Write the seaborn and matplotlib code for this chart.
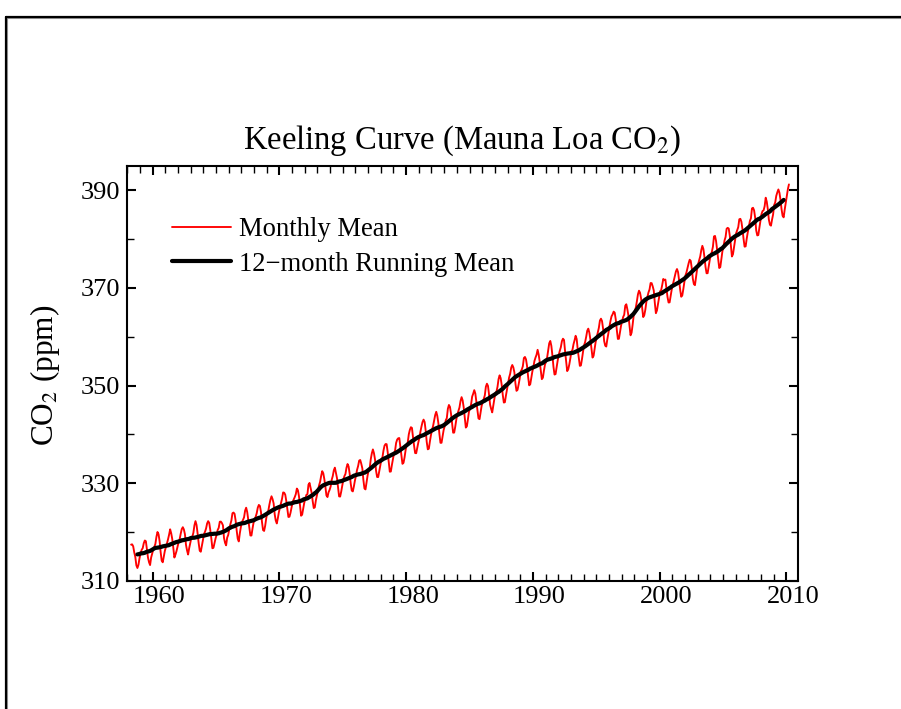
import numpy as np
import pandas as pd
import matplotlib
matplotlib.use("Agg")
import matplotlib.pyplot as plt
import matplotlib.transforms as mtransforms
from matplotlib.lines import Line2D
from matplotlib.ticker import MultipleLocator
import seaborn as sns

# ---------------- data (Mauna Loa monthly mean CO2, ppm) ----------------
start_year = 1958
start_month = 4  # April 1958
monthly_mean_ppm = [
    # 1958 (Apr-Dec)
    317.45, 317.50, 317.10, 315.86, 314.93, 313.20, 312.66, 313.33, 314.67,
    # 1959
    315.62, 316.38, 316.71, 317.72, 318.29, 318.15, 316.54, 314.80, 313.84, 313.26, 314.80, 315.58,
    # 1960
    316.43, 316.97, 317.58, 319.02, 320.03, 319.59, 318.18, 315.91, 314.16, 313.83, 315.00, 316.19,
    # 1961
    316.93, 317.70, 318.54, 319.48, 320.58, 319.77, 318.57, 316.79, 314.80, 315.38, 316.10, 317.01,
    # 1962
    317.94, 318.56, 319.68, 320.63, 321.01, 320.55, 319.58, 317.40, 316.26, 315.42, 316.69, 317.69,
    # 1963
    318.74, 319.08, 319.86, 321.39, 322.25, 321.47, 319.74, 317.77, 316.21, 315.99, 317.12, 318.31,
    # 1964
    319.57, 320.07, 320.73, 321.77, 322.25, 321.89, 320.44, 318.70, 316.70, 316.79, 317.79, 318.71,
    # 1965
    319.44, 320.44, 320.89, 322.13, 322.16, 321.87, 321.39, 318.81, 317.81, 317.30, 318.87, 319.42,
    # 1966
    320.62, 321.59, 322.39, 323.87, 324.01, 323.75, 322.39, 320.37, 318.64, 318.10, 319.79, 321.08,
    # 1967
    322.07, 322.50, 323.04, 324.42, 325.00, 324.09, 322.55, 320.92, 319.31, 319.31, 320.72, 321.96,
    # 1968
    322.57, 323.15, 323.89, 325.02, 325.57, 325.36, 324.14, 322.03, 320.41, 320.25, 321.31, 322.84,
    # 1969
    324.00, 324.42, 325.64, 326.66, 327.34, 326.76, 325.88, 323.67, 322.38, 321.78, 322.85, 324.11,
    # 1970
    325.03, 325.99, 326.87, 328.13, 328.07, 327.66, 326.35, 324.69, 323.10, 323.16, 323.98, 325.13,
    # 1971
    326.17, 326.68, 327.18, 327.78, 328.92, 328.57, 327.34, 325.46, 323.36, 323.57, 324.80, 326.01,
    # 1972
    326.77, 327.63, 327.75, 329.72, 330.07, 329.09, 328.05, 326.32, 324.93, 325.06, 326.50, 327.55,
    # 1973
    328.54, 329.56, 330.30, 331.50, 332.48, 332.07, 330.87, 329.31, 327.51, 327.18, 328.16, 328.64,
    # 1974
    329.35, 330.71, 331.48, 332.65, 333.20, 332.16, 331.07, 329.12, 327.32, 327.28, 328.30, 329.58,
    # 1975
    330.73, 331.46, 331.90, 333.17, 333.94, 333.45, 331.97, 329.95, 328.50, 328.34, 329.37, 330.58,
    # 1976
    331.59, 332.75, 333.52, 334.64, 334.77, 334.00, 333.06, 330.68, 328.95, 328.75, 330.15, 331.62,
    # 1977
    332.66, 333.13, 334.95, 336.13, 336.93, 336.17, 334.88, 332.56, 331.29, 331.27, 332.41, 333.60,
    # 1978
    334.95, 335.25, 336.66, 337.69, 338.03, 338.01, 336.41, 334.41, 332.37, 332.41, 333.75, 334.90,
    # 1979
    336.14, 336.69, 338.27, 338.95, 339.21, 339.26, 337.54, 335.75, 333.98, 334.19, 335.31, 336.81,
    # 1980
    337.90, 338.34, 340.01, 340.93, 341.48, 341.33, 339.40, 337.70, 336.19, 336.15, 337.27, 338.32,
    # 1981
    339.29, 340.55, 341.61, 342.53, 343.03, 342.54, 340.78, 338.44, 336.95, 337.08, 338.58, 339.88,
    # 1982
    340.96, 341.73, 342.81, 343.97, 344.63, 343.79, 342.32, 340.09, 338.28, 338.29, 339.60, 340.90,
    # 1983
    341.68, 342.90, 343.33, 345.25, 346.03, 345.63, 344.19, 342.27, 340.35, 340.38, 341.59, 343.05,
    # 1984
    344.10, 344.79, 345.52, 346.84, 347.63, 346.97, 345.53, 343.55, 341.40, 341.67, 343.10, 344.70,
    # 1985
    345.21, 346.16, 347.74, 348.34, 349.06, 348.38, 346.72, 345.02, 343.27, 343.13, 344.49, 345.88,
    # 1986
    346.56, 347.28, 348.01, 349.77, 350.38, 349.93, 348.16, 346.08, 345.22, 344.51, 345.93, 347.21,
    # 1987
    348.52, 348.73, 349.73, 351.31, 352.09, 351.53, 350.11, 348.08, 346.52, 346.59, 347.96, 349.16,
    # 1988
    350.39, 351.64, 352.41, 353.69, 354.21, 353.72, 352.69, 350.40, 348.92, 349.13, 350.20, 351.41,
    # 1989
    352.91, 353.27, 353.96, 355.64, 355.86, 355.37, 353.99, 351.81, 350.05, 350.25, 351.49, 352.85,
    # 1990
    353.80, 355.04, 355.73, 356.32, 357.32, 356.34, 354.84, 353.01, 351.31, 351.62, 353.07, 354.33,
    # 1991
    354.84, 355.73, 357.23, 358.66, 359.13, 358.13, 356.19, 353.85, 352.25, 352.35, 353.81, 355.12,
    # 1992
    356.25, 357.11, 357.86, 359.09, 359.59, 359.33, 357.01, 354.94, 352.96, 353.32, 354.32, 355.57,
    # 1993
    357.00, 357.31, 358.47, 359.27, 360.19, 359.52, 357.33, 355.64, 354.03, 354.12, 355.41, 356.91,
    # 1994
    358.24, 358.92, 359.99, 361.23, 361.65, 360.81, 359.38, 357.46, 355.73, 356.08, 357.53, 358.98,
    # 1995
    359.92, 360.86, 361.83, 363.30, 363.69, 363.19, 361.64, 359.12, 358.17, 357.99, 359.45, 360.68,
    # 1996
    362.07, 363.24, 364.17, 364.57, 365.13, 364.92, 363.55, 361.38, 359.54, 359.58, 360.89, 362.24,
    # 1997
    363.09, 364.03, 364.51, 366.35, 366.64, 365.59, 364.31, 362.25, 360.29, 360.82, 362.49, 364.38,
    # 1998
    365.26, 365.98, 367.24, 368.66, 369.42, 368.99, 367.82, 365.95, 364.02, 364.40, 365.52, 367.13,
    # 1999
    368.18, 369.07, 369.68, 370.99, 370.96, 370.30, 369.45, 366.90, 364.81, 365.37, 366.72, 368.10,
    # 2000
    369.29, 369.54, 370.60, 371.82, 371.58, 371.70, 369.86, 368.13, 367.00, 367.03, 368.37, 369.67,
    # 2001
    370.59, 371.51, 372.43, 373.37, 373.85, 373.21, 371.51, 369.61, 368.18, 368.45, 369.76, 371.24,
    # 2002
    372.53, 373.20, 374.12, 375.02, 375.76, 375.52, 374.01, 371.85, 370.75, 370.55, 372.25, 373.79,
    # 2003
    374.88, 375.64, 376.45, 377.73, 378.60, 377.93, 376.28, 374.29, 372.98, 373.00, 374.35, 375.69,
    # 2004
    376.79, 377.37, 378.41, 380.52, 380.63, 379.57, 377.79, 375.86, 374.06, 374.24, 375.86, 377.48,
    # 2005
    378.37, 379.69, 380.41, 382.10, 382.28, 382.13, 380.66, 378.71, 376.42, 376.88, 378.32, 379.91,
    # 2006
    381.18, 381.83, 382.42, 384.03, 384.13, 383.52, 381.99, 380.07, 378.43, 378.49, 380.04, 381.36,
    # 2007
    382.45, 383.68, 384.23, 386.26, 386.39, 385.87, 384.39, 381.78, 380.73, 380.81, 382.33, 383.69,
    # 2008
    385.07, 385.72, 385.85, 386.71, 388.45, 387.64, 386.10, 383.95, 382.91, 382.73, 383.96, 385.02,
    # 2009
    386.94, 387.48, 388.82, 389.55, 390.14, 389.48, 388.03, 386.11, 384.74, 384.43, 386.02, 387.42,
    # 2010 (Jan-Mar)
    388.71, 390.20, 391.17,
]

title_text = "Keeling Curve (Mauna Loa CO$_2$)"
ylabel_text = "CO$_2$ (ppm)"
series_labels = ["Monthly Mean", "12\u2212month Running Mean"]
x_ticks = [1960, 1970, 1980, 1990, 2000, 2010]
y_ticks = [310, 330, 350, 370, 390]

# ---------------- build table ----------------
n = len(monthly_mean_ppm)
decimal_year = start_year + (start_month - 0.5) / 12.0 + np.arange(n) / 12.0
df = pd.DataFrame({"year": decimal_year, "co2": monthly_mean_ppm})
df["running"] = df["co2"].rolling(12, center=True).mean()
run_df = df.dropna(subset=["running"])

# ---------------- style ----------------
sns.set_theme(style="ticks")
plt.rcParams["font.family"] = ["Liberation Serif", "DejaVu Serif"]
plt.rcParams["mathtext.fontset"] = "stix"
for k in ["text.color", "axes.labelcolor", "xtick.color", "ytick.color", "axes.edgecolor"]:
    plt.rcParams[k] = "black"

fig = plt.figure(figsize=(9.01, 7.09), dpi=100)
fig.patch.set_facecolor("white")
W, H = 901.0, 709.0
ax_left, ax_right, ax_top, ax_bot = 127.0, 797.7, 165.7, 581.0
ax = fig.add_axes([ax_left / W, 1 - ax_bot / H, (ax_right - ax_left) / W, (ax_bot - ax_top) / H])

sns.lineplot(data=df, x="year", y="co2", ax=ax, color="#ff0000", lw=1.35,
             estimator=None, sort=False, label=series_labels[0])
sns.lineplot(data=run_df, x="year", y="running", ax=ax, color="black", lw=3.0,
             estimator=None, sort=False, label=series_labels[1])

ax.set_xlim(1957.97, 2010.9)
ax.set_ylim(310, 395)
ax.set_xticks(x_ticks)
ax.set_yticks(y_ticks)
ax.xaxis.set_minor_locator(MultipleLocator(1))
ax.yaxis.set_minor_locator(MultipleLocator(10))
ax.tick_params(which="major", direction="in", top=True, right=True, length=6.5, width=1.5,
               labelsize=19)
ax.tick_params(which="minor", direction="in", top=True, right=True, length=5, width=1.0)
ax.tick_params(axis="x", which="major", pad=3.5)
ax.tick_params(axis="y", which="major", pad=5)
for s in ax.spines.values():
    s.set_linewidth(1.5)
    s.set_color("black")

# labels slightly right of their ticks, as in the reference
offset = mtransforms.ScaledTranslation(6.5 / 100.0, 0, fig.dpi_scale_trans)
for lab in ax.get_xticklabels():
    lab.set_transform(lab.get_transform() + offset)

ax.set_xlabel("")
ax.set_ylabel(ylabel_text, fontsize=22.5)
ax.yaxis.set_label_coords(-0.097, 0.496)
ax.set_title(title_text, fontsize=23.5, pad=12)

ax.legend(loc="upper left", bbox_to_anchor=(0.067, 0.876), frameon=False,
          borderaxespad=0, borderpad=0, handlelength=2.2, handletextpad=0.3,
          labelspacing=0.36, fontsize=19.2)

# outer figure frame (cut off at right and bottom)
fx0, fy0 = 5.5 / W, 1 - 16.5 / H
fig.add_artist(Line2D([fx0 + 1.5 / W, 1], [fy0 - 1.5 / H] * 2, transform=fig.transFigure,
                      color="#9a9a9a", lw=0.8))
fig.add_artist(Line2D([fx0 + 1.5 / W] * 2, [0, fy0 - 1.5 / H], transform=fig.transFigure,
                      color="#9a9a9a", lw=0.8))
fig.add_artist(Line2D([fx0, 1], [fy0, fy0], transform=fig.transFigure, color="black", lw=1.6))
fig.add_artist(Line2D([fx0, fx0], [0, fy0], transform=fig.transFigure, color="black", lw=1.6))

fig.savefig("out.png", dpi=100, facecolor="white")
